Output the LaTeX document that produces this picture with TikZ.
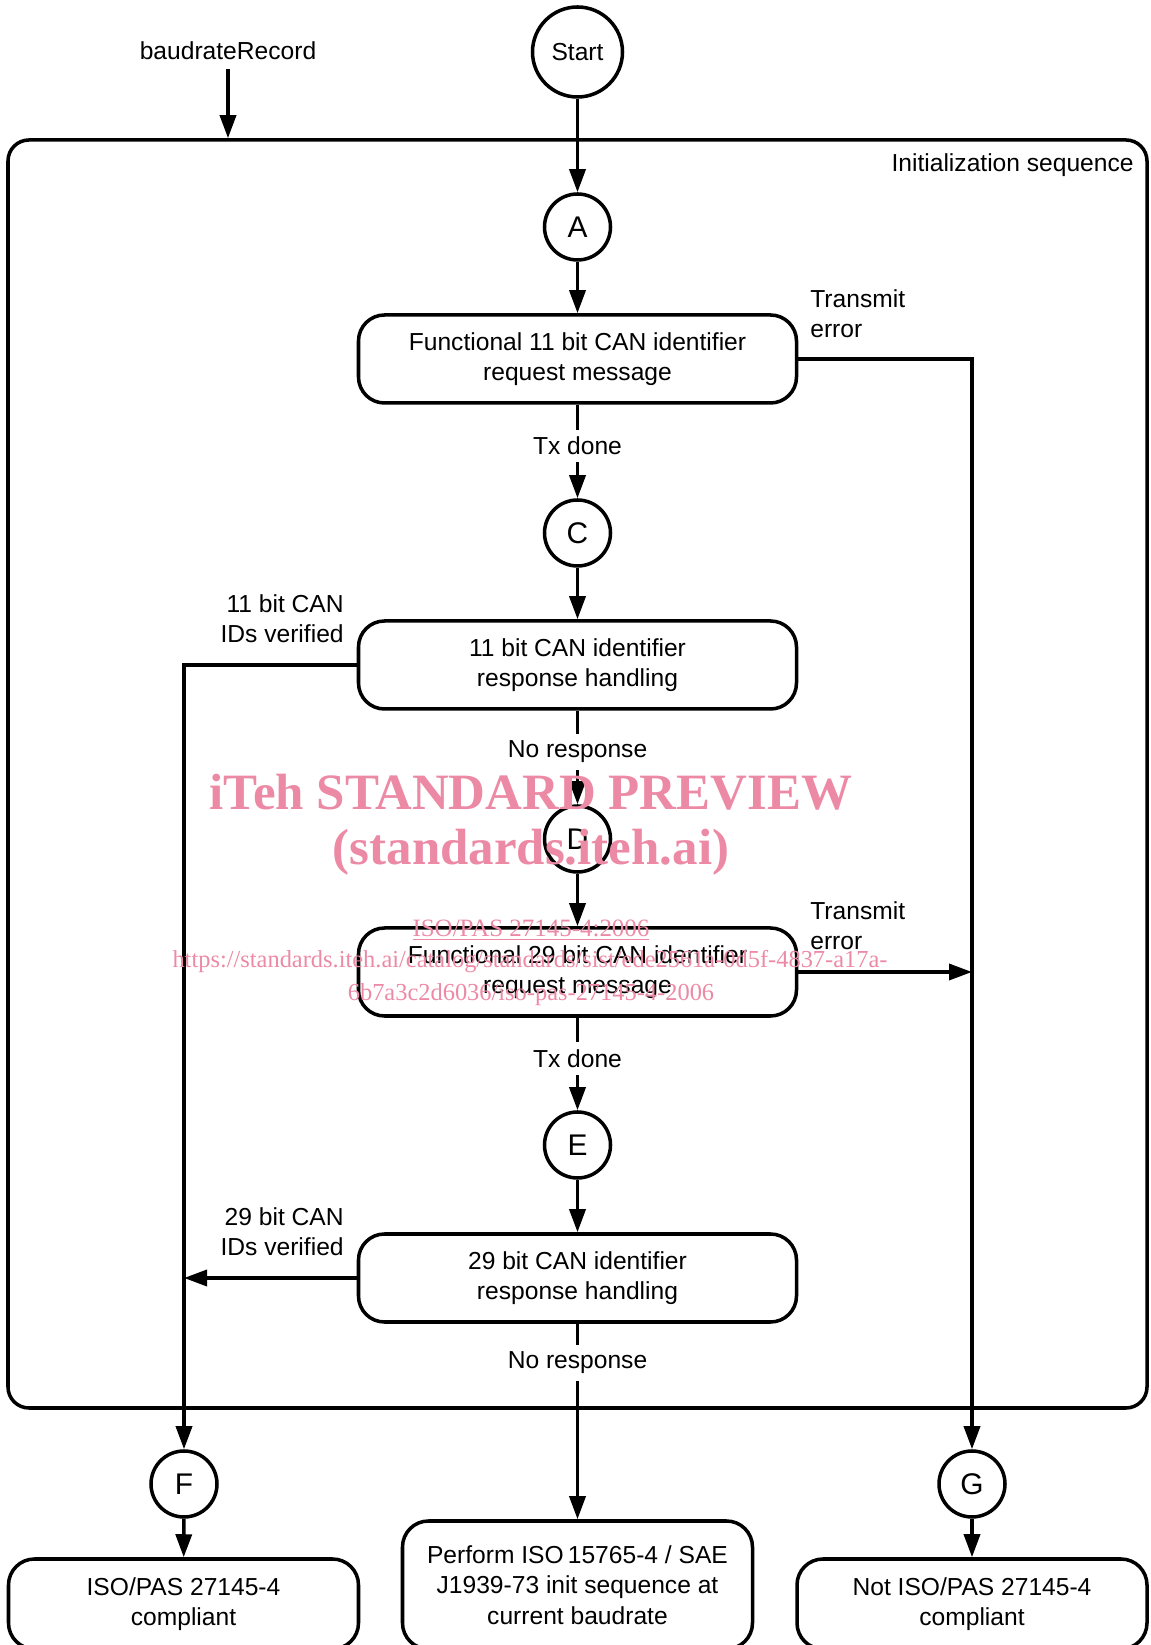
\documentclass[tikz,border=0pt]{standalone}
\usepackage{fontspec}
\setmainfont{Liberation Sans}
\newfontfamily\wmfont{Liberation Serif}
\usepackage{xcolor}
\usetikzlibrary{arrows.meta, positioning, calc}
\definecolor{wmpink}{RGB}{236,138,166}

\begin{document}
\begin{tikzpicture}[
    every node/.style={font=\fontsize{14}{17.3}\selectfont},
    proc/.style={draw, line width=2pt, rounded corners=0.52cm,
      minimum width=8.76cm, minimum height=1.76cm, align=center},
    endbox/.style={draw, line width=2pt, rounded corners=0.52cm,
      minimum width=7.0cm, align=center},
    conn/.style={draw, circle, line width=2pt, minimum size=1.32cm,
      inner sep=0pt, font=\fontsize{17}{20}\selectfont},
    frame/.style={draw, line width=2pt, rounded corners=0.42cm},
    arr/.style={-{Triangle[length=0.46cm, width=0.32cm]}, line width=2pt},
    cond/.style={fill=white, inner sep=4pt, pos=0.44},
    lbl/.style={inner sep=0pt},
    wm/.style={text=wmpink, inner sep=0pt},
  ]
    \useasboundingbox (0,0) rectangle (23,32.9);
    \clip (0,0) rectangle (23,32.9);

    % ═══ Outer frame ═══
    \node[frame, minimum width=22.78cm, minimum height=25.36cm] (init) at (11.55, 17.42) {};
    \node[lbl, anchor=east] (initlbl) at (22.68, 29.6) {Initialization sequence};
    \node (baud) at (4.56, 31.88) {baudrateRecord};
    \node[conn, minimum size=1.8cm, font=\fontsize{14}{17}\selectfont] (start) at (11.55, 31.86) {Start};

    % ═══ Main column ═══
    \node[conn] (A) at (11.55, 28.36) {A};
    \node[proc] (b1) at (11.55, 25.72) {Functional 11 bit CAN identifier\\request message};
    \node[conn] (C) at (11.55, 22.24) {C};
    \node[proc] (b2) at (11.55, 19.6) {11 bit CAN identifier\\response handling};
    \node[conn] (D) at (11.55, 16.12) {D};
    \node[proc] (b3) at (11.55, 13.46) {Functional 29 bit CAN identifier\\request message};
    \node[conn] (E) at (11.55, 10.0) {E};
    \node[proc] (b4) at (11.55, 7.34) {29 bit CAN identifier\\response handling};

    % ═══ Exits ═══
    \node[conn] (F) at (3.68, 3.22) {F};
    \node[conn] (G) at (19.44, 3.22) {G};
    \node[endbox, minimum height=1.8cm] (okbox) at (3.67, 0.82) {ISO/PAS 27145-4\\compliant};
    \node[endbox, minimum height=2.56cm] (perf) at (11.55, 1.2)
      {Perform ISO\,15765-4 / SAE\\J1939-73 init sequence at\\current baudrate};
    \node[endbox, minimum height=1.8cm] (nokbox) at (19.44, 0.82) {Not ISO/PAS 27145-4\\compliant};

    % side labels
    \node[lbl, anchor=west, align=left] (te1) at (16.2, 26.62) {Transmit\\error};
    \node[lbl, anchor=west, align=left] (te2) at (16.2, 14.38) {Transmit\\error};
    \node[lbl, anchor=east, align=right] (ok11) at (6.88, 20.52) {11 bit CAN\\IDs verified};
    \node[lbl, anchor=east, align=right] (ok29) at (6.88, 8.27) {29 bit CAN\\IDs verified};

    % ═══ Connectors ═══
    \draw[arr] ([yshift=-0.06cm]baud.south) -- (baud.south |- init.north);
    \draw[arr] (start) -- (A);
    \draw[arr] (A) -- (b1);
    \draw[arr] (b1) -- node[cond] {Tx done} (C);
    \draw[arr] (C) -- (b2);
    \draw[arr] (b2) -- node[cond] {No response} (D);
    \draw[arr] (D) -- (b3);
    \draw[arr] (b3) -- node[cond] {Tx done} (E);
    \draw[arr] (E) -- (b4);
    \draw[arr] (b4) -- node[cond, pos=0.2] {No response} (perf);

    \coordinate (j29) at (b4.west -| F);
    \coordinate (jte) at (b3.east -| G);
    \draw[arr] (b1.east) -- (b1.east -| G) -- (G);
    \draw[arr] (b3.east) -- (jte);
    \draw[arr] (b2.west) -- (b2.west -| F) -- (F);
    \draw[arr] (b4.west) -- (j29);
    \draw[arr] (F) -- (okbox);
    \draw[arr] (G) -- (nokbox);

    % ═══ Watermark ═══
    \node[wm, font=\wmfont\bfseries\fontsize{29}{32}\selectfont] (wm1) at (10.62, 17.06) {iTeh STANDARD PREVIEW};
    \node[wm, font=\wmfont\bfseries\fontsize{29}{32}\selectfont] (wm2) at (10.62, 15.86) {(standards.iteh.ai)};
    \node[wm, font=\wmfont\fontsize{14.2}{16}\selectfont] (wm3) at (10.62, 14.3) {\underline{ISO/PAS 27145-4:2006}};
    \node[wm, font=\wmfont\fontsize{13.9}{16}\selectfont] (wm4) at (10.6, 13.66)
      {https://standards.iteh.ai/catalog/standards/sist/ede2561a-0d5f-4837-a17a-};
    \node[wm, font=\wmfont\fontsize{13.9}{16}\selectfont] (wm5) at (10.62, 13.0)
      {6b7a3c2d6036/iso-pas-27145-4-2006};
  \end{tikzpicture}
\end{document}
